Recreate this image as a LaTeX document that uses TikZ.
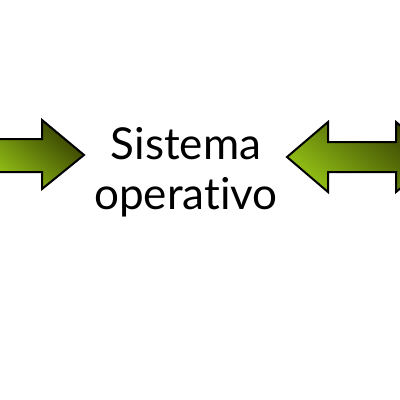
\documentclass[tikz,border=0pt]{standalone}
\usepackage{fontspec}
\setmainfont{Lato}[Ligatures=NoCommon]
\definecolor{olivedark}{HTML}{333C00}
\definecolor{olivelight}{HTML}{94C216}
\tikzset{
  greenarrow/.style={draw=black,line width=2pt,line join=miter,
    top color=olivedark,bottom color=olivelight,shading angle=-40},
  title/.style={align=center,font=\fontsize{44}{50}\selectfont}
}
\begin{document}
\begin{tikzpicture}[x=1pt,y=-1pt]
		\useasboundingbox (0,0) rectangle (400,400);
		\clip (0,0) rectangle (400,400);
		% arrow coming in from the left
		\shadedraw [greenarrow] (-10,139)--(42,139)--(42,120)--(84,155)--(42,189)--(42,172)--(-10,172)--cycle;
		% two-way arrow on the right
		\shadedraw [greenarrow] (287,157)--(328,122)--(328,142)--(396,142)--(396,122)--(438,157)--(396,192)--(396,172)--(328,172)--(328,192)--cycle;
		\node [title] (os) at (186,172) {Sistema\\operativo};
		\end{tikzpicture}
\end{document}
